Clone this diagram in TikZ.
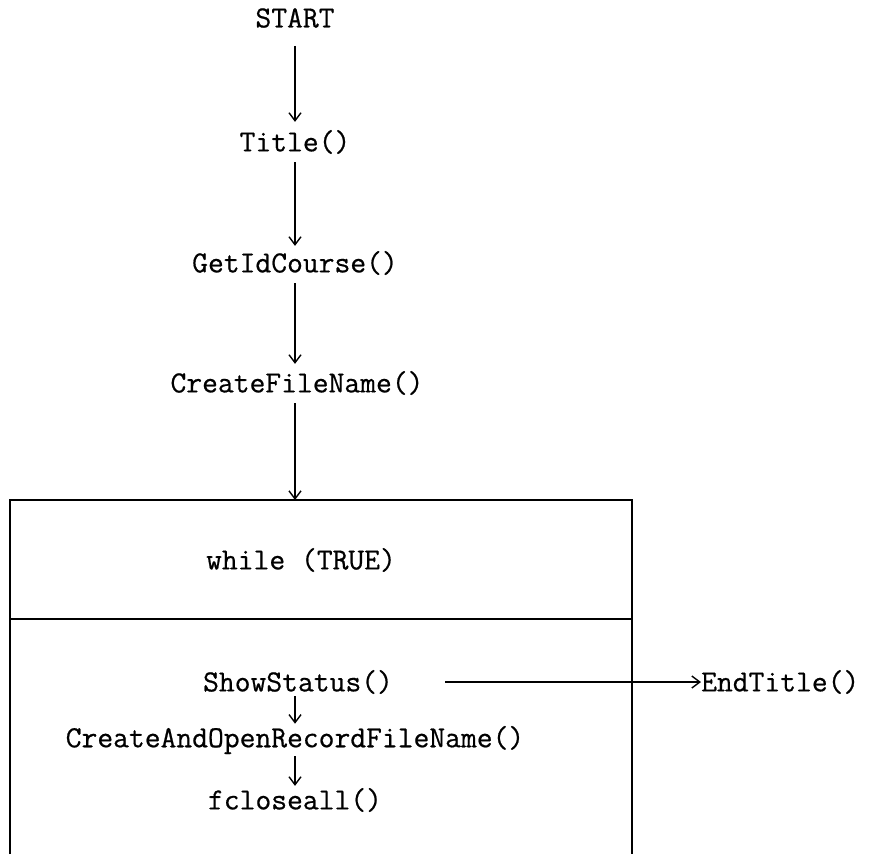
\documentclass[tikz,border=0pt]{standalone}
\usepackage{fontspec}
\newfontfamily\flowfont[FakeBold=0.6]{Latin Modern Mono}
\usetikzlibrary{arrows.meta}
\begin{document}
\begin{tikzpicture}[x=1pt,y=-1pt,
  fn/.style={inner sep=0pt, font=\flowfont\fontsize{30.7}{31}\selectfont},
  flow/.style={line width=1.5pt, -{Straight Barb[length=8pt,width=12pt,line width=1.4pt]}},
  frame/.style={line width=1.5pt}]
\useasboundingbox (0,0) rectangle (878,854);

% sequence before the loop
\node[fn] (start) at (295,18) {START};
\node[fn] (title) at (295,142) {Title()};
\node[fn] (getid) at (295,263) {GetIdCourse()};
\node[fn] (mkname) at (297,383) {CreateFileName()};
\coordinate (looptop) at (295,500);

\draw[flow, shorten <=18pt, shorten >=8pt] (start) -- (title);
\draw[flow, shorten <=8pt, shorten >=5pt] (title) -- (getid);
\draw[flow, shorten <=8pt, shorten >=7pt] (getid) -- (getid |- mkname.north);
\draw[flow, shorten <=8pt] (looptop |- mkname.south) -- (looptop);

% while loop frame, open at the bottom
\draw[frame] (10,854) -- (10,500) -- (632,500) -- (632,854);
\draw[frame] (10,619) -- (632,619);
\node[fn] (cond) at (301,560) {while (TRUE)};

% loop body
\node[fn] (status) at (298,682) {ShowStatus()};
\node[fn] (openrec) at (295,740) {CreateAndOpenRecordFileName()};
\node[fn] (fclose) at (295,800) {fcloseall()};
\node[fn, anchor=west] (endt) at (701,682) {EndTitle()};

\draw[flow, shorten <=2pt, shorten >=2pt] (fclose |- status.south) -- (fclose |- openrec.north);
\draw[flow, shorten <=2pt, shorten >=2pt] (fclose |- openrec.south) -- (fclose);
\draw[flow] ([xshift=52pt]status.east) -- (endt.west);
\end{tikzpicture}
\end{document}
